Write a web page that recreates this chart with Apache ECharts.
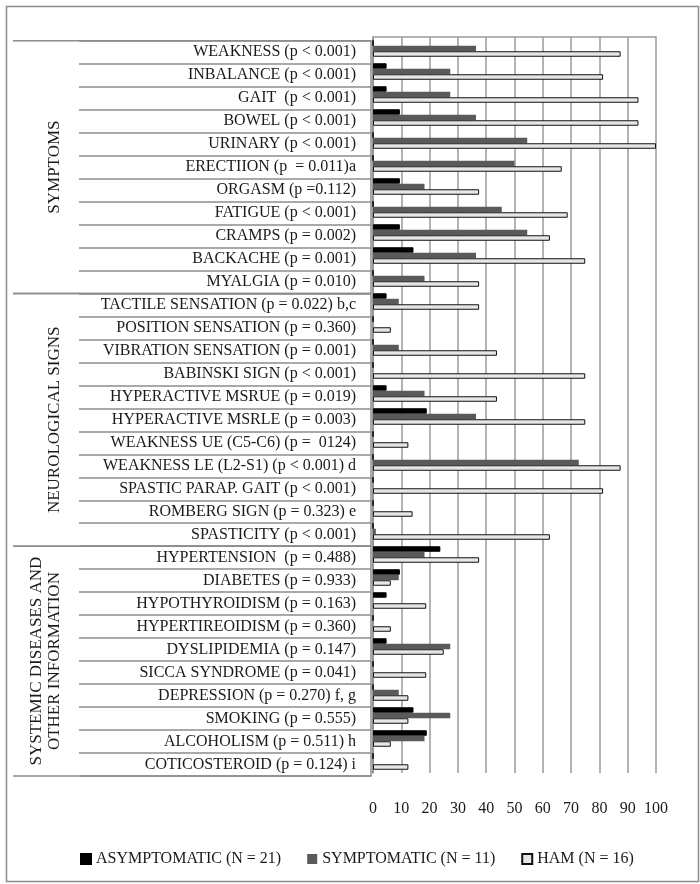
<!DOCTYPE html>
<html>
<head>
<meta charset="utf-8">
<script src="https://cdn.jsdelivr.net/npm/echarts@6/dist/echarts.min.js"></script>
<style>
html,body{margin:0;padding:0;background:#fff;}
#chart{width:700px;height:884px;}
</style>
</head>
<body>
<div id="chart"></div>
<script>
var categories = [
  'WEAKNESS (p < 0.001)',
  'INBALANCE (p < 0.001)',
  'GAIT  (p < 0.001)',
  'BOWEL (p < 0.001)',
  'URINARY (p < 0.001)',
  'ERECTIION (p  = 0.011)a',
  'ORGASM (p =0.112)',
  'FATIGUE (p < 0.001)',
  'CRAMPS (p = 0.002)',
  'BACKACHE (p = 0.001)',
  'MYALGIA (p = 0.010)',
  'TACTILE SENSATION (p = 0.022) b,c',
  'POSITION SENSATION (p = 0.360)',
  'VIBRATION SENSATION (p = 0.001)',
  'BABINSKI SIGN (p < 0.001)',
  'HYPERACTIVE MSRUE (p = 0.019)',
  'HYPERACTIVE MSRLE (p = 0.003)',
  'WEAKNESS UE (C5-C6) (p =  0124)',
  'WEAKNESS LE (L2-S1) (p < 0.001) d',
  'SPASTIC PARAP. GAIT (p < 0.001)',
  'ROMBERG SIGN (p = 0.323) e',
  'SPASTICITY (p < 0.001)',
  'HYPERTENSION  (p = 0.488)',
  'DIABETES (p = 0.933)',
  'HYPOTHYROIDISM (p = 0.163)',
  'HYPERTIREOIDISM (p = 0.360)',
  'DYSLIPIDEMIA (p = 0.147)',
  'SICCA SYNDROME (p = 0.041)',
  'DEPRESSION (p = 0.270) f, g',
  'SMOKING (p = 0.555)',
  'ALCOHOLISM (p = 0.511) h',
  'COTICOSTEROID (p = 0.124) i'
];

var asymptomatic = [0, 4.8, 4.8, 9.5, 0, 0, 9.5, 0, 9.5, 14.3, 0,
                    4.8, 0, 0, 0, 4.8, 19.0, 0, 0, 0, 0, 0,
                    23.8, 9.5, 4.8, 0, 4.8, 0, 0, 14.3, 19.0, 0];
var symptomatic = [36.4, 27.3, 27.3, 36.4, 54.5, 50, 18.2, 45.5, 54.5, 36.4, 18.2,
                   9.1, 0, 9.1, 0, 18.2, 36.4, 0, 72.7, 0, 0, 1,
                   18.2, 9.1, 0, 0, 27.3, 0, 9.1, 27.3, 18.2, 0];
var ham = [87.5, 81.3, 93.8, 93.8, 100, 66.7, 37.5, 68.8, 62.5, 75, 37.5,
           37.5, 6.3, 43.8, 75, 43.8, 75, 12.5, 87.5, 81.3, 14, 62.5,
           37.5, 6.3, 18.8, 6.3, 25, 18.8, 12.5, 12.5, 6.3, 12.5];

var seriesNames = ['ASYMPTOMATIC (N = 21)', 'SYMPTOMATIC (N = 11)', 'HAM (N = 16)'];
var groupLabels = [['SYMPTOMS'], ['NEUROLOGICAL SIGNS'], ['SYSTEMIC DISEASES AND', 'OTHER INFORMATION']];
var groupSizes = [11, 11, 10];
var xTicks = [0, 100, 10];

var FONT = '"Liberation Serif", "Times New Roman", serif';
var groupData = [];
var acc = 0;
for (var i = 0; i < groupSizes.length; i++) {
  groupData.push([acc, acc + groupSizes[i], i]);
  acc += groupSizes[i];
}

var chart = echarts.init(document.getElementById('chart'));
var option = {
  animation: false,
  backgroundColor: '#ffffff',
  graphic: [{
    type: 'rect', left: 4, top: 4,
    shape: {width: 692, height: 875},
    style: {fill: 'none', stroke: '#8c8c8c', lineWidth: 1.5},
    silent: true
  }],
  legend: {
    left: 75, top: 846,
    itemWidth: 10, itemHeight: 10, itemGap: 26,
    icon: 'rect',
    textStyle: {fontFamily: FONT, fontSize: 16, color: '#1a1a1a'},
    data: seriesNames
  },
  grid: [
    {left: 373, top: 37, width: 283, height: 736},
    {left: 79, top: 40.7, width: 292, height: 735.3},
    {left: 13, top: 40.7, width: 358, height: 735.3}
  ],
  xAxis: [
    {gridIndex: 0, type: 'value', min: xTicks[0], max: xTicks[1], interval: xTicks[2], position: 'bottom',
     axisLine: {show: false}, axisTick: {show: false},
     axisLabel: {fontFamily: FONT, fontSize: 16, color: '#1a1a1a', margin: 28},
     splitLine: {show: true, lineStyle: {color: '#9a9a9a', width: 1.5}}},
    {gridIndex: 0, type: 'value', min: xTicks[0], max: xTicks[1], position: 'top',
     axisLine: {show: true, onZero: false, lineStyle: {color: '#9a9a9a', width: 1.5}},
     axisTick: {show: false}, axisLabel: {show: false}, splitLine: {show: false}},
    {gridIndex: 1, type: 'value', show: false},
    {gridIndex: 2, type: 'value', min: 0, max: 1, show: false}
  ],
  yAxis: [
    {gridIndex: 0, type: 'category', data: categories, inverse: true,
     axisLine: {show: true, onZero: false, lineStyle: {color: '#8c8c8c', width: 1.5}},
     axisTick: {show: false}, axisLabel: {show: false}, splitLine: {show: false}},
    {gridIndex: 1, type: 'category', data: categories, inverse: true, position: 'right',
     axisLine: {show: true, onZero: false, lineStyle: {color: '#8c8c8c', width: 1.5}},
     axisTick: {show: false},
     axisLabel: {inside: true, margin: 15, padding: [6, 0, 0, 0], fontFamily: FONT, fontSize: 16, color: '#1a1a1a'},
     splitLine: {show: true, lineStyle: {color: '#8c8c8c', width: 1.5}}},
    {gridIndex: 2, type: 'value', min: 0, max: acc, inverse: true, show: false}
  ],
  series: [
    {name: seriesNames[0], type: 'bar', xAxisIndex: 0, yAxisIndex: 0, data: asymptomatic,
     barWidth: 5.5, barGap: '0%',
     itemStyle: {color: '#000000', borderColor: '#000000', borderWidth: 1}},
    {name: seriesNames[1], type: 'bar', xAxisIndex: 0, yAxisIndex: 0, data: symptomatic,
     barWidth: 5.5, barGap: '0%',
     itemStyle: {color: '#5a5a5a'}},
    {name: seriesNames[2], type: 'bar', xAxisIndex: 0, yAxisIndex: 0, data: ham,
     barWidth: 5.5, barGap: '0%',
     itemStyle: {color: '#e6e6e6', borderColor: '#111111', borderWidth: 1}},
    {type: 'custom', xAxisIndex: 3, yAxisIndex: 2, data: groupData, silent: true,
     renderItem: function (params, api) {
       var s = api.value(0), e = api.value(1), gi = api.value(2);
       var p0 = api.coord([0, s]);
       var p1 = api.coord([1, s]);
       var q0 = api.coord([0, e]);
       var q1 = api.coord([1, e]);
       var cy = (p0[1] + q0[1]) / 2;
       var lines = groupLabels[gi];
       var children = [
         {type: 'line', shape: {x1: p0[0], y1: p0[1], x2: p1[0], y2: p1[1]},
          style: {stroke: '#8c8c8c', lineWidth: 1.5}},
         {type: 'line', shape: {x1: q0[0], y1: q0[1], x2: q1[0], y2: q1[1]},
          style: {stroke: '#8c8c8c', lineWidth: 1.5}}
       ];
       var lh = 18.5;
       var lastX = p0[0] + 42;
       for (var k = 0; k < lines.length; k++) {
         children.push({type: 'text', x: lastX - (lines.length - 1 - k) * lh, y: cy, rotation: Math.PI / 2,
           style: {text: lines[k], align: 'center', verticalAlign: 'middle',
                   font: '17px ' + FONT, fill: '#1a1a1a'}});
       }
       return {type: 'group', children: children};
     }}
  ]
};
chart.setOption(option);
</script>
</body>
</html>
